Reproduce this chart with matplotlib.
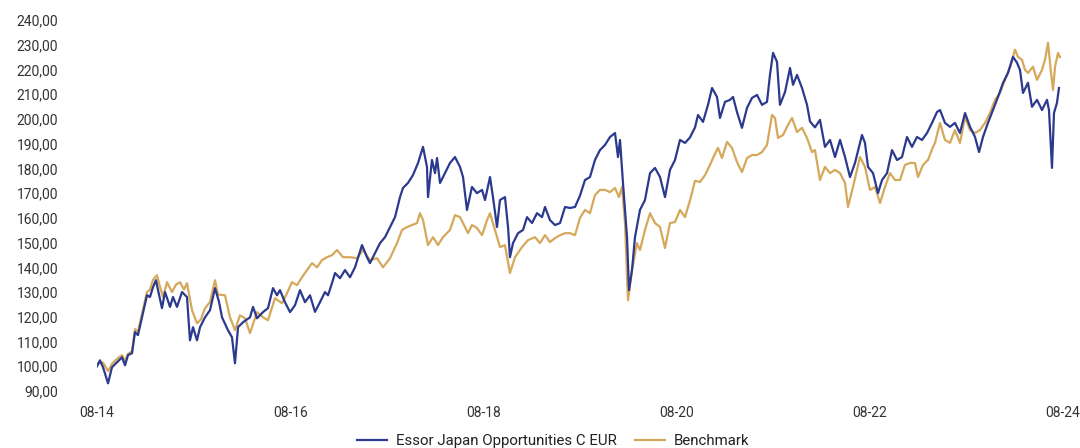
import matplotlib
matplotlib.use("Agg")
import matplotlib.pyplot as plt
from matplotlib import font_manager
from matplotlib.ticker import FuncFormatter, FixedLocator

# ---------------- data (months since Aug 2014, index value) ----------------
fund_months = [0, 0.37, 0.75, 1.37, 1.86, 2.48, 3.11, 3.48, 3.85, 4.35, 4.72, 5.09, 5.71, 6.21, 6.58, 6.96,
               7.33, 7.58, 8.07, 8.45, 9.07, 9.44, 9.94, 10.56, 11.18, 11.55, 11.93, 12.42, 12.80, 13.42,
               14.04, 14.66, 15.16, 15.53, 16.27, 16.77, 17.14, 17.52, 18.14, 19.01, 19.38, 19.88, 20.62,
               21.24, 21.86, 22.36, 22.73, 23.35, 23.98, 24.60, 25.22, 25.84, 26.46, 27.08, 27.70, 28.32,
               28.70, 29.19, 29.57, 30.19, 30.81, 31.43, 32.05, 32.92, 33.54, 33.91, 34.53, 35.16, 35.78,
               36.40, 37.02, 37.64, 38.01, 38.63, 39.25, 39.88, 40.50, 40.99, 41.12, 41.61, 41.99, 42.24,
               42.61, 43.23, 43.85, 44.47, 45.09, 45.47, 45.96, 46.58, 47.20, 47.83, 48.20, 48.82, 49.19,
               49.69, 50.06, 50.68, 51.06, 51.30, 51.68, 52.30, 52.92, 53.42, 54.04, 54.66, 55.28, 55.65,
               56.27, 56.89, 57.52, 58.14, 58.76, 59.38, 60.00, 60.62, 61.24, 61.86, 62.48, 63.11, 63.73,
               64.35, 64.72, 64.97, 65.34, 65.84, 66.09, 66.46, 66.83, 67.45, 68.07, 68.70, 69.32, 69.94,
               70.56, 71.18, 71.80, 72.42, 73.04, 73.66, 74.29, 74.66, 75.28, 75.90, 76.40, 77.02, 77.39,
               78.01, 78.63, 79.01, 79.50, 80.12, 80.75, 81.37, 81.99, 82.61, 83.23, 83.60, 83.98, 84.47,
               84.84, 85.47, 86.09, 86.46, 86.96, 87.58, 88.20, 88.57, 89.19, 89.81, 90.43, 91.06, 91.68,
               92.30, 92.92, 93.54, 94.16, 95.03, 95.40, 95.78, 96.40, 97.02, 97.52, 98.14, 98.76, 99.38,
               100.00, 100.62, 101.24, 101.86, 102.48, 103.11, 103.73, 104.35, 104.72, 105.34, 105.96,
               106.58, 107.20, 107.83, 108.45, 109.07, 109.57, 110.06, 110.68, 111.30, 111.93, 112.55,
               113.17, 113.79, 114.29, 114.66, 115.03, 115.65, 116.15, 116.77, 117.39, 118.01, 118.26,
               118.63, 118.88, 119.25, 119.50]
fund_values = [100.0, 102.4, 99.6, 93.1, 99.6, 101.6, 103.6, 100.4, 104.5, 105.3, 113.8, 112.6, 121.5, 128.7,
               128.0, 132.0, 134.8, 130.8, 123.5, 130.0, 124.0, 128.0, 124.0, 130.0, 128.0, 110.5, 115.8,
               110.5, 115.8, 119.8, 122.7, 131.6, 126.0, 119.8, 114.6, 111.7, 101.2, 115.8, 117.8, 119.8,
               124.0, 119.4, 121.9, 123.5, 131.6, 128.7, 130.8, 125.9, 121.9, 124.7, 130.8, 125.9, 128.7,
               122.0, 125.9, 130.0, 128.7, 133.6, 137.7, 135.6, 138.9, 136.0, 140.0, 149.0, 144.1, 141.7,
               145.7, 149.8, 152.2, 156.3, 160.3, 168.4, 172.1, 174.1, 177.3, 182.2, 188.7, 180.6, 168.4,
               183.4, 178.1, 184.2, 174.1, 178.1, 182.2, 184.6, 180.6, 176.5, 163.2, 172.5, 170.0, 171.3,
               167.2, 176.5, 168.4, 156.3, 167.2, 168.4, 156.3, 144.1, 149.8, 153.8, 155.1, 160.3, 157.9,
               161.9, 160.3, 164.4, 159.1, 157.1, 157.9, 164.4, 164.0, 164.4, 169.0, 175.3, 176.5, 183.4,
               187.4, 189.5, 192.7, 194.3, 184.6, 191.5, 174.1, 152.2, 130.8, 138.9, 152.2, 163.2, 167.2,
               178.1, 180.2, 176.5, 168.4, 179.4, 183.4, 191.5, 190.3, 192.5, 196.6, 201.6, 198.8, 205.7,
               212.5, 208.9, 200.4, 206.9, 207.7, 208.9, 202.8, 196.4, 204.5, 208.5, 209.7, 205.7, 206.9,
               217.8, 226.7, 223.1, 205.7, 210.9, 220.6, 213.8, 217.8, 212.5, 205.7, 199.0, 196.6, 199.6,
               188.7, 191.5, 184.6, 191.5, 184.6, 176.5, 182.2, 193.5, 190.3, 180.6, 178.1, 170.0, 175.3,
               178.1, 187.4, 183.4, 184.6, 192.7, 188.7, 192.7, 191.5, 194.3, 198.4, 202.8, 203.6, 198.4,
               196.8, 198.4, 194.3, 202.4, 196.8, 192.7, 186.6, 192.7, 198.4, 203.6, 208.9, 214.6, 218.6,
               225.1, 222.7, 219.8, 210.5, 214.6, 204.9, 207.7, 203.6, 207.7, 203.6, 180.2, 202.4, 206.5,
               212.5]

bench_months = [0, 0.75, 1.37, 1.86, 2.48, 3.11, 3.48, 3.85, 4.35, 4.72, 5.09, 5.71, 6.21, 6.58, 6.96, 7.45,
                7.83, 8.20, 8.70, 9.32, 9.81, 10.31, 10.81, 11.18, 11.80, 12.42, 12.92, 13.42, 14.04, 14.66,
                15.03, 15.90, 16.52, 17.14, 17.76, 18.39, 19.01, 19.88, 20.62, 21.24, 22.11, 22.98, 23.60,
                24.22, 24.84, 25.47, 26.09, 26.71, 27.33, 27.95, 28.57, 29.19, 29.81, 30.56, 31.43, 32.30,
                33.04, 33.91, 34.78, 35.53, 36.40, 37.27, 37.89, 38.51, 39.13, 39.75, 40.12, 40.50, 41.12,
                41.74, 42.36, 42.98, 43.85, 44.47, 45.09, 45.47, 46.09, 46.58, 47.20, 47.83, 48.45, 48.82,
                49.44, 50.06, 50.68, 51.30, 51.93, 52.80, 53.54, 54.41, 55.03, 55.65, 56.27, 56.89, 57.52,
                58.14, 58.76, 59.38, 60.00, 60.62, 61.24, 61.86, 62.48, 63.11, 63.73, 64.35, 64.84, 65.22,
                65.59, 65.96, 66.46, 67.08, 67.45, 68.07, 68.70, 69.32, 69.94, 70.56, 71.18, 71.80, 72.42,
                73.04, 73.66, 74.29, 74.91, 75.53, 76.15, 76.52, 77.14, 77.64, 78.26, 78.88, 79.50, 80.12,
                80.75, 81.37, 81.99, 82.61, 83.23, 83.85, 84.22, 84.60, 85.22, 85.84, 86.34, 86.96, 87.58,
                88.20, 88.82, 89.19, 89.81, 90.43, 91.06, 91.68, 92.30, 92.92, 93.29, 93.91, 94.78, 95.40,
                96.02, 96.65, 97.27, 97.89, 98.51, 99.13, 99.75, 100.37, 100.99, 101.61, 101.99, 102.61,
                103.23, 103.85, 104.10, 104.72, 105.34, 105.96, 106.58, 107.20, 107.83, 108.45, 109.07,
                109.69, 110.31, 110.93, 111.55, 112.17, 112.80, 113.42, 114.04, 114.41, 114.91, 115.28,
                115.65, 116.27, 116.77, 117.39, 117.76, 118.14, 118.51, 118.76, 119.01, 119.38, 119.63]
bench_values = [101.0, 101.5, 98.0, 101.0, 103.0, 104.5, 102.0, 105.0, 106.0, 115.0, 114.0, 123.0, 130.0, 131.0,
                135.0, 136.8, 132.0, 128.0, 134.0, 130.0, 133.0, 134.0, 131.0, 133.6, 122.7, 117.4, 119.0,
                123.5, 126.0, 134.8, 129.0, 128.7, 119.8, 114.6, 120.6, 119.4, 113.4, 121.9, 119.8, 118.6,
                127.5, 125.5, 129.5, 134.0, 132.8, 136.0, 138.9, 141.7, 140.0, 142.9, 144.1, 144.9, 147.0,
                144.1, 144.1, 143.7, 147.0, 142.9, 143.7, 140.0, 143.7, 149.8, 155.1, 156.3, 157.1, 157.9,
                161.9, 159.1, 149.0, 152.2, 149.0, 152.2, 155.1, 161.1, 160.3, 157.9, 153.8, 157.1, 155.9,
                153.0, 159.1, 161.9, 155.1, 148.2, 149.0, 137.7, 144.1, 148.2, 151.0, 152.2, 149.8, 153.0,
                150.2, 151.8, 153.0, 153.8, 153.8, 153.0, 160.0, 163.2, 161.9, 169.2, 171.3, 171.3, 170.4,
                172.1, 168.4, 172.5, 157.9, 126.7, 138.9, 149.8, 147.0, 155.1, 161.9, 157.9, 156.3, 147.8,
                157.9, 158.3, 163.2, 160.3, 167.0, 175.0, 174.5, 177.3, 181.4, 184.2, 188.3, 184.2, 190.7,
                188.3, 182.6, 178.5, 184.2, 185.4, 185.4, 186.6, 189.5, 201.6, 200.4, 192.3, 193.5, 197.6,
                200.4, 194.7, 196.4, 192.3, 186.6, 187.4, 175.3, 180.6, 178.1, 179.4, 178.1, 174.1, 164.4,
                172.5, 184.6, 180.6, 171.3, 172.5, 166.0, 172.5, 178.1, 175.3, 175.3, 181.4, 182.2, 182.2,
                176.5, 181.4, 183.4, 188.7, 190.3, 198.4, 191.5, 190.3, 195.5, 190.3, 200.8, 195.5, 194.3,
                195.5, 198.4, 202.4, 207.7, 210.5, 215.8, 221.1, 228.0, 225.1, 223.9, 219.8, 218.6, 221.1,
                215.8, 219.8, 223.9, 230.8, 218.6, 211.7, 221.1, 226.7, 225.0]

tick_months = [0, 24, 48, 72, 96, 120]
tick_labels = ["08-14", "08-16", "08-18", "08-20", "08-22", "08-24"]
y_ticks = [90, 100, 110, 120, 130, 140, 150, 160, 170, 180, 190, 200, 210, 220, 230, 240]

series_names = ["Essor Japan Opportunities C EUR", "Benchmark"]
fund_color = "#2b3a8e"
bench_color = "#d5a85b"

# ---------------- font ----------------
def pick_font(cands):
    for c in cands:
        try:
            font_manager.findfont(c, fallback_to_default=False)
            return c
        except Exception:
            continue
    return "DejaVu Sans"

font_name = pick_font(["Roboto", "Liberation Sans"])
tick_fs, leg_fs = 10, 10.8
plt.rcParams["font.family"] = [font_name, "DejaVu Sans"]

# ---------------- figure ----------------
fig = plt.figure(figsize=(10.8, 4.48), dpi=100)
ax = fig.add_axes([97 / 1080, 1 - 391 / 448, 966 / 1080, 371 / 448])

l_bench, = ax.plot(bench_months, bench_values, color=bench_color, lw=1.6, zorder=2)
l_fund, = ax.plot(fund_months, fund_values, color=fund_color, lw=1.6, zorder=3)

ax.set_xlim(0, 120)
ax.set_ylim(90, 240)
ax.xaxis.set_major_locator(FixedLocator(tick_months))
ax.set_xticklabels(tick_labels)
ax.yaxis.set_major_locator(FixedLocator(y_ticks))
ax.yaxis.set_major_formatter(FuncFormatter(lambda v, p: f"{v:.2f}".replace(".", ",")))

for s in ax.spines.values():
    s.set_visible(False)
ax.tick_params(axis="both", length=0, labelsize=tick_fs, colors="#333333")
ax.tick_params(axis="y", pad=28)
ax.tick_params(axis="x", pad=11)

fig.legend([l_fund, l_bench], series_names, loc="center", bbox_to_anchor=(553 / 1080, 1 - 441 / 448),
           ncol=2, frameon=False, fontsize=leg_fs, handlelength=2.0, handletextpad=0.6,
           columnspacing=1.2, labelcolor="#222222")

fig.savefig("out.png", dpi=100)
